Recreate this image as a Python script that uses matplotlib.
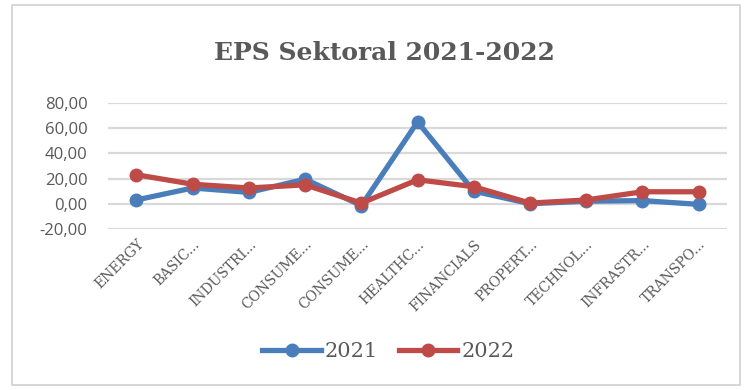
import matplotlib.pyplot as plt
from matplotlib.patches import Rectangle

sectors = ['ENERGY', 'BASIC...', 'INDUSTRI...', 'CONSUME...', 'CONSUME...', 'HEALTHC...',
           'FINANCIALS', 'PROPERT...', 'TECHNOL...', 'INFRASTR...', 'TRANSPO...']
eps_2021 = [3.0, 12.5, 9.0, 19.5, -1.5, 65.0, 10.0, 0.0, 2.0, 2.5, -0.5]
eps_2022 = [23.0, 15.5, 12.5, 15.0, 0.5, 19.0, 13.5, 0.5, 3.0, 9.5, 9.5]
yticks = [-20, 0, 20, 40, 60, 80]

fig = plt.figure(figsize=(7.47, 3.9), dpi=100)
fig.patches.append(Rectangle((0.016, 0.012), 0.975, 0.975, transform=fig.transFigure,
                             fill=False, edgecolor='#d0d0d0', linewidth=1.2))
ax = fig.add_axes([0.145, 0.413, 0.828, 0.323])

x = list(range(len(sectors)))
ax.plot(x, eps_2021, color='#4a7ebb', lw=3.8, marker='o', ms=9, label='2021', zorder=3)
ax.plot(x, eps_2022, color='#be4b48', lw=3.8, marker='o', ms=9, label='2022', zorder=4)

ax.set_xlim(-0.5, 10.5)
ax.set_ylim(-20, 80)
ax.set_yticks(yticks)
ax.set_yticklabels([f'{v:.2f}'.replace('.', ',') for v in yticks],
                   fontfamily='Open Sans', fontsize=12, color='#595959')
ax.set_xticks(x)
ax.set_xticklabels(sectors, rotation=45, ha='right', rotation_mode='anchor',
                   fontfamily='DejaVu Serif', fontsize=10, color='#595959')
ax.tick_params(axis='y', length=0, pad=15)
ax.tick_params(axis='x', length=0, pad=6)
ax.grid(axis='y', color='#d9d9d9', lw=1.6)
ax.set_axisbelow(True)
for s in ax.spines.values():
    s.set_visible(False)

fig.text(0.515, 0.865, 'EPS Sektoral 2021-2022', ha='center', va='center',
         fontfamily='DejaVu Serif', fontweight='bold', fontsize=18, color='#595959')

fig.legend(loc='center', bbox_to_anchor=(0.52, 0.098), ncol=2, frameon=False,
           prop={'family': 'DejaVu Serif', 'size': 15}, labelcolor='#595959',
           handlelength=2.8, columnspacing=1.0, handletextpad=0.2)

fig.savefig('out.png', dpi=100)
